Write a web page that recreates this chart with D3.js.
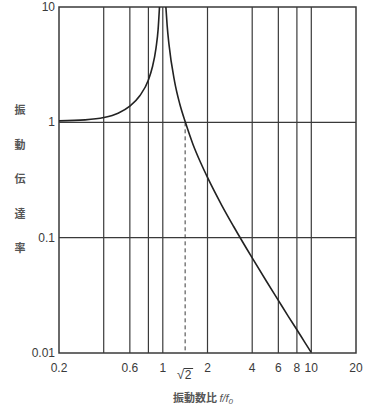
<!DOCTYPE html>
<html><head><meta charset="utf-8">
<script src="https://cdn.jsdelivr.net/npm/d3@7"></script>
<style>html,body{margin:0;padding:0;background:#fff;}svg{display:block;}</style>
</head><body>
<svg id="c" width="378" height="413"></svg>
<script>
// Transmissibility curve
const leftX  = [0.2, 0.3, 0.4, 0.5, 0.6, 0.7, 0.8, 0.85, 0.9, 0.93, 0.95];
const leftY  = [1.03, 1.05, 1.10, 1.2, 1.38, 1.7, 2.33, 3.0, 4.4, 6.4, 10];
const rightX = [1.049, 1.07, 1.1, 1.2, 1.3, 1.42, 1.6, 1.8, 2, 2.5, 3, 4, 5, 6, 7, 8, 9, 9.95];
const rightY = [10, 6.9, 4.76, 2.27, 1.45, 1.0, 0.64, 0.446, 0.333, 0.19, 0.125, 0.0667, 0.0417, 0.0286, 0.0208, 0.0159, 0.0125, 0.0102];
const xGrid = [0.4, 0.6, 0.8, 1, 2, 4, 6, 8, 10];
const xTickLabels = [0.2, 0.6, 1, 2, 4, 6, 8, 10, 20];
const yGrid = [1, 0.1];
const yTickLabels = [10, 1, 0.1, 0.01];
const sqrt2 = 1.414;
const yTitle = ["振", "動", "伝", "達", "率"];

const svg = d3.select("#c");
const L = 59, R = 356, T = 7, B = 353;
const x = d3.scaleLog().domain([0.2, 20]).range([L, R]);
const y = d3.scaleLog().domain([0.01, 10]).range([B, T]);
const ink = "#3a3a3a";

const g = svg.append("g");
svg.append("clipPath").attr("id", "clp").append("rect")
  .attr("x", L).attr("y", T).attr("width", R - L).attr("height", B - T);

g.selectAll(".vg").data(xGrid).enter().append("line")
  .attr("x1", d => x(d)).attr("x2", d => x(d)).attr("y1", T).attr("y2", B)
  .attr("stroke", ink).attr("stroke-width", 1.2);
g.selectAll(".hg").data(yGrid).enter().append("line")
  .attr("x1", L).attr("x2", R).attr("y1", d => y(d)).attr("y2", d => y(d))
  .attr("stroke", ink).attr("stroke-width", 1.2);
g.append("line").attr("x1", x(sqrt2)).attr("x2", x(sqrt2)).attr("y1", y(1)).attr("y2", B)
  .attr("stroke", ink).attr("stroke-width", 1).attr("stroke-dasharray", "4,3");
g.append("rect").attr("x", L).attr("y", T).attr("width", R - L).attr("height", B - T)
  .attr("fill", "none").attr("stroke", ink).attr("stroke-width", 1.5);

const line = d3.line().x(d => x(d[0])).y(d => y(d[1])).curve(d3.curveMonotoneX);
const cg = g.append("g").attr("clip-path", "url(#clp)");
cg.append("path").datum(leftX.map((v, i) => [v, leftY[i]])).attr("d", line)
  .attr("fill", "none").attr("stroke", "#222").attr("stroke-width", 1.6);
cg.append("path").datum(rightX.map((v, i) => [v, rightY[i]])).attr("d", line)
  .attr("fill", "none").attr("stroke", "#222").attr("stroke-width", 1.6);

const font = "'Liberation Sans', Arial, sans-serif";
g.selectAll(".yl").data(yTickLabels).enter().append("text")
  .attr("x", L - 4).attr("y", d => y(d) + 4).attr("text-anchor", "end")
  .attr("font-family", font).attr("font-size", 12).attr("fill", ink)
  .text(d => d);
g.selectAll(".xl").data(xTickLabels).enter().append("text")
  .attr("x", d => x(d)).attr("y", 372).attr("text-anchor", "middle")
  .attr("font-family", font).attr("font-size", 12).attr("fill", ink)
  .text(d => d);
const sx = x(sqrt2);
g.append("text").attr("x", sx - 1).attr("y", 379).attr("text-anchor", "end")
  .attr("font-family", font).attr("font-size", 13).attr("fill", ink).text("√");
g.append("text").attr("x", sx + 3).attr("y", 379).attr("text-anchor", "middle")
  .attr("font-family", font).attr("font-size", 12).attr("fill", ink).text("2");
g.append("line").attr("x1", sx - 1.5).attr("x2", sx + 8).attr("y1", 368.5).attr("y2", 368.5)
  .attr("stroke", ink).attr("stroke-width", 1);

g.selectAll(".yt").data(yTitle).enter().append("text")
  .attr("x", 20).attr("y", (d, i) => 114 + i * 34.5).attr("text-anchor", "middle")
  .attr("font-family", "'Noto Sans CJK JP', sans-serif").attr("font-size", 11)
  .attr("font-weight", 700).attr("fill", "#555")
  .text(d => d);
const xt = g.append("text").attr("x", 203).attr("y", 402).attr("text-anchor", "middle")
  .attr("font-family", "'Noto Sans CJK JP', sans-serif").attr("font-size", 11).attr("fill", "#555");
xt.append("tspan").attr("font-weight", 700).text("振動数比 ");
xt.append("tspan").attr("font-style", "italic").attr("font-family", font).text("f/f");
xt.append("tspan").attr("font-style", "italic").attr("font-family", font).attr("font-size", 8).attr("dy", 2).text("0");
</script>
</body></html>
